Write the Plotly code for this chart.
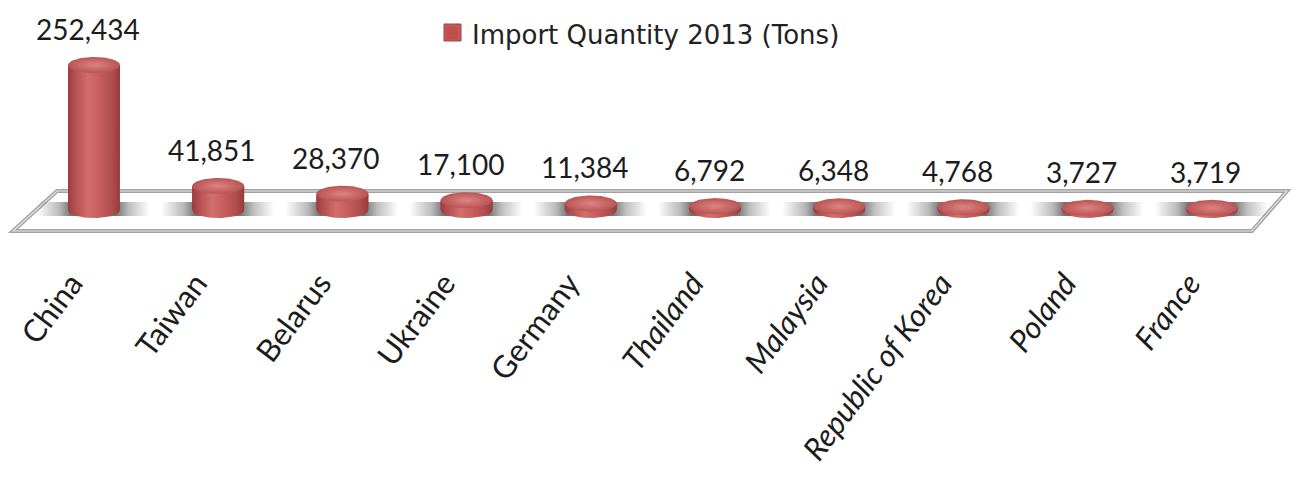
import numpy as np
import plotly.graph_objects as go

# Import quantities, 2013 (tons)
countries = ["China", "Taiwan", "Belarus", "Ukraine", "Germany",
             "Thailand", "Malaysia", "Republic of Korea", "Poland", "France"]
import_tons = [252434, 41851, 28370, 17100, 11384, 6792, 6348, 4768, 3727, 3719]
value_labels = ["252,434", "41,851", "28,370", "17,100", "11,384",
                "6,792", "6,348", "4,768", "3,727", "3,719"]
italic_labels = [False, False, False, False, False, True, True, True, True, True]
series_name = "Import Quantity 2013 (Tons)"

# ---- page geometry -------------------------------------------------------
FIG_W, FIG_H = 1294, 480
PLOT_H = 255                 # plot area height (labels sit in the bottom margin)
CAT_PX0, CAT_STEP = 94, 124.2  # pixel x of first category, spacing
BASE_PY = 210                # pixel y of the cylinder bases
TONS_PER_PX = 1741.0

def px_x(px):
    return (px - CAT_PX0) / CAT_STEP

def px_y(py):
    return (BASE_PY - py) * TONS_PER_PX

x_range = [px_x(0), px_x(FIG_W)]
y_range = [px_y(PLOT_H), px_y(0)]

HALF_W = 26 / CAT_STEP          # cylinder radius in x units
ELL_H = 8 * TONS_PER_PX          # half height of the elliptical caps

body_scale = [[0, "#9b3c3e"], [0.12, "#b14d4e"], [0.38, "#d26e6e"],
              [0.55, "#ca6262"], [0.85, "#b04d4e"], [1, "#973a3c"]]
cap_scale = [[0, "#dc8484"], [0.6, "#c96666"], [1, "#b85656"]]
shadow_scale = [[0, "rgba(100,100,100,0)"], [0.2, "rgba(100,100,100,0.45)"],
                [0.3, "rgba(90,90,90,0.85)"], [0.7, "rgba(90,90,90,0.85)"],
                [0.82, "rgba(100,100,100,0.4)"], [1, "rgba(100,100,100,0)"]]

fig = go.Figure()

# floor slab under the cylinders
floor_pts = [(px_x(57), px_y(191)), (px_x(1287), px_y(191)),
             (px_x(1252), px_y(231)), (px_x(13), px_y(231))]
floor_path = "M " + " L ".join(f"{x},{y}" for x, y in floor_pts) + " Z"
fig.add_shape(type="path", path=floor_path, xref="x", yref="y", layer="below",
              fillcolor="white", line=dict(color="#a3a3a3", width=4))
fig.add_shape(type="path", path=floor_path, xref="x", yref="y", layer="below",
              fillcolor="rgba(0,0,0,0)", line=dict(color="#e4e4e4", width=1.2))

# soft shadows stretched along the floor
for i in range(len(countries)):
    x0, x1 = i - 0.46, i + 0.45
    y0, y1 = px_y(216), px_y(202)
    fig.add_trace(go.Scatter(
        x=[x0, x1, x1, x0, x0], y=[y0, y0, y1, y1, y0], mode="lines",
        line=dict(width=0), fill="toself",
        fillgradient=dict(type="horizontal", colorscale=shadow_scale),
        hoverinfo="skip", showlegend=False))

# base bars carry the series (legend entry) under the shaded cylinder bodies
fig.add_trace(go.Bar(
    x=list(range(len(countries))), y=import_tons, base=0, width=2 * HALF_W,
    marker=dict(color="#c0504d", line=dict(width=0)), name=series_name,
    showlegend=True, hoverinfo="skip"))

t = np.linspace(0, np.pi, 40)
full = np.linspace(0, 2 * np.pi, 80)
for i, v in enumerate(import_tons):
    # body: rectangle plus lower half of the base ellipse
    arc_x = i + HALF_W * np.cos(t)
    arc_y = -ELL_H * np.sin(t)
    bx = [i - HALF_W, i - HALF_W, i + HALF_W] + list(arc_x)
    by = [0, v, v] + list(arc_y)
    fig.add_trace(go.Scatter(
        x=bx, y=by, mode="lines", line=dict(width=0), fill="toself",
        fillgradient=dict(type="horizontal", colorscale=body_scale),
        hoverinfo="skip", showlegend=False))
    # top cap
    fig.add_trace(go.Scatter(
        x=i + HALF_W * np.cos(full), y=v + ELL_H * np.sin(full),
        mode="lines", line=dict(width=0), fill="toself",
        fillgradient=dict(type="radial", colorscale=cap_scale),
        hoverinfo="skip", showlegend=False))
    fig.add_annotation(x=i, y=v, text=value_labels[i], showarrow=False,
                       xanchor="center", yanchor="bottom", xshift=-6, yshift=17,
                       font=dict(family="Lato", size=28, color="#1c1c1c"))

tick_text = [f"<i>{c}</i>" if it else c for c, it in zip(countries, italic_labels)]
LABEL_SHIFT = -22 / CAT_STEP

# larger legend swatch behind the legend's own marker
LEG_ICON_X, LEG_ICON_Y, LEG_ICON_S = 444, 24, 17
fig.add_shape(type="rect", xref="paper", yref="paper",
              x0=LEG_ICON_X / FIG_W, x1=(LEG_ICON_X + LEG_ICON_S) / FIG_W,
              y0=1 - (LEG_ICON_Y + LEG_ICON_S) / PLOT_H, y1=1 - LEG_ICON_Y / PLOT_H,
              fillcolor="#c4585a", line=dict(color="#a94345", width=1), layer="above")

fig.update_layout(
    width=FIG_W, height=FIG_H,
    margin=dict(l=0, r=0, t=0, b=FIG_H - PLOT_H, autoexpand=False),
    paper_bgcolor="white", plot_bgcolor="white",
    showlegend=True,
    legend=dict(orientation="h", x=432 / FIG_W, y=1 - 10 / PLOT_H,
                xanchor="left", yanchor="top", bgcolor="rgba(0,0,0,0)",
                font=dict(family="DejaVu Sans", size=26, color="#222222")),
    xaxis=dict(range=x_range, showgrid=False, zeroline=False, showline=False,
               automargin=False,
               tickvals=[i + LABEL_SHIFT for i in range(len(countries))],
               ticktext=tick_text, tickangle=-53, ticks="",
               ticklabelstandoff=3,
               tickfont=dict(family="Lato", size=31, color="#1c1c1c")),
    yaxis=dict(range=y_range, visible=False, automargin=False),
)

fig.write_html("out.html")
